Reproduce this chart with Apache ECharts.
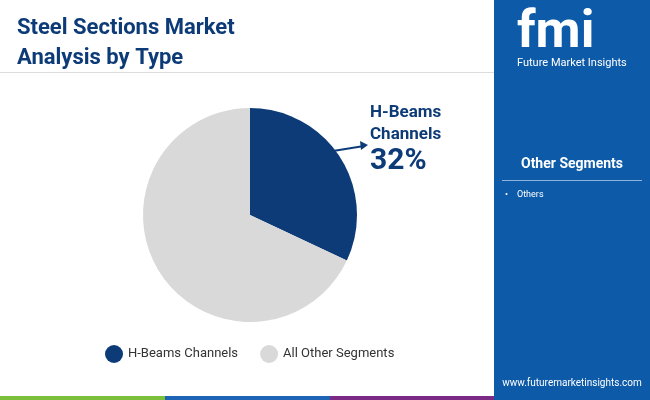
<!DOCTYPE html><html><head><meta charset="utf-8"><script src="https://cdn.jsdelivr.net/npm/echarts@6/dist/echarts.min.js"></script>
<style>body{margin:0}#c{width:650px;height:400px}</style></head><body><div id="c"></div><script>
const categories=["H-Beams Channels","All Other Segments"];
const values=[32,68];
const colors=["#0d3b78","#d9d9d9"];
const ch=echarts.init(document.getElementById('c'));
ch.setOption({
 backgroundColor:'#fff',
 title:{text:'Steel Sections Market\nAnalysis by Type',left:12,top:8,textStyle:{color:'#0d3b78',fontSize:22,fontWeight:'bold',fontFamily:'Roboto',lineHeight:30}},
 legend:{bottom:32,left:100,itemWidth:18,itemHeight:18,icon:'circle',itemGap:22,textStyle:{fontSize:13,color:'#333',fontFamily:'Roboto'},data:categories},
 series:[{type:'pie',radius:107,center:[250,215],startAngle:90,clockwise:true,label:{show:false},silent:true,
  data:categories.map((n,i)=>({name:n,value:values[i],itemStyle:{color:colors[i]}}))}],
 graphic:[
  {type:'rect',shape:{x:0,y:72,width:494,height:1},style:{fill:'#ddd'}},
  {type:'rect',shape:{x:494,y:0,width:156,height:400},style:{fill:'#0d5aa8'}},
  {type:'text',left:517,top:8,style:{text:'fmi',fill:'#fff',font:'bold 52px Roboto'}},
  {type:'text',left:517,top:58,style:{text:'Future Market Insights',fill:'#fff',font:'11px Roboto'}},
  {type:'text',x:572,y:164,style:{text:'Other Segments',fill:'#fff',font:'bold 14px Roboto',align:'center',verticalAlign:'middle'}},
  {type:'rect',shape:{x:502,y:180,width:140,height:1},style:{fill:'#8fb3dc'}},
  {type:'text',left:505,top:190,style:{text:'•    Others',fill:'#fff',font:'9px Roboto'}},
  {type:'text',x:572,y:383,style:{text:'www.futuremarketinsights.com',fill:'#fff',font:'10px Roboto',align:'center',verticalAlign:'middle'}},
  {type:'rect',shape:{x:0,y:396,width:165,height:4},style:{fill:'#7bbf3a'}},
  {type:'rect',shape:{x:165,y:396,width:165,height:4},style:{fill:'#1e64b4'}},
  {type:'rect',shape:{x:330,y:396,width:164,height:4},style:{fill:'#7b2a86'}},
  {type:'text',left:370,top:102,style:{text:'H-Beams\nChannels',fill:'#0d3b78',font:'bold 17px Roboto',lineHeight:22}},
  {type:'text',left:370,top:146,style:{text:'32%',fill:'#0d3b78',font:'bold 30px Roboto'}},
  {type:'line',shape:{x1:333,y1:151,x2:364,y2:146},style:{stroke:'#0d3b78',lineWidth:2}},
  {type:'polygon',shape:{points:[[368,145],[360,141],[361,150]]},style:{fill:'#0d3b78'}}
 ]
});
</script></body></html>
